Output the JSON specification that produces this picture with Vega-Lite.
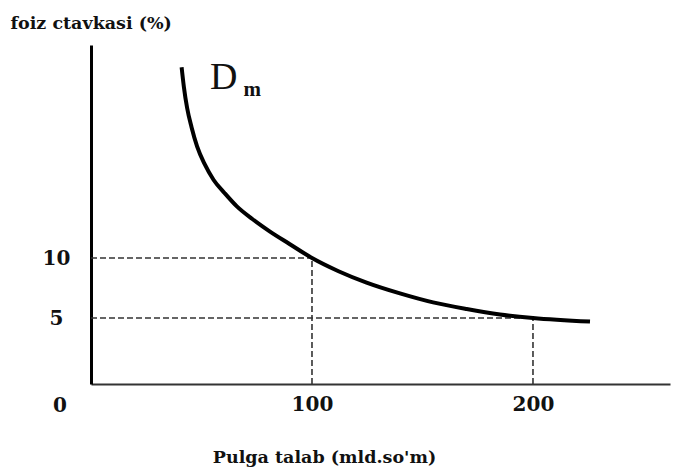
{
"$schema": "https://vega.github.io/schema/vega-lite/v6.json",
"width": 579,
"height": 339,
"autosize": "none",
"padding": {"left": 91, "top": 45, "right": 6, "bottom": 84},
"background": "white",
"config": {"view": {"stroke": null}, "font": "DejaVu Serif"},
"layer": [
{
"data": {"values": [
{"x": 0, "y": 10, "x2": 100, "y2": 10},
{"x": 100, "y": -0.5, "x2": 100, "y2": 10},
{"x": 0, "y": 5, "x2": 200, "y2": 5},
{"x": 200, "y": -0.5, "x2": 200, "y2": 5}
]},
"mark": {"type": "rule", "strokeDash": [6, 3], "color": "#333", "strokeWidth": 1.6},
"encoding": {
"x": {"field": "x", "type": "quantitative", "scale": {"domain": [0, 262], "nice": false, "zero": false},
"axis": {"values": [100, 200], "ticks": false, "tickSize": 0, "grid": false, "domainColor": "#333", "domainWidth": 2,
"labelFont": "DejaVu Serif", "labelFontWeight": "bold", "labelFontSize": 20, "labelColor": "#111", "labelPadding": 20, "labelBaseline": "middle",
"title": "Pulga talab (mld.so'm)", "titleFont": "DejaVu Serif", "titleFontWeight": "bold", "titleFontSize": 17.5, "titleColor": "#111",
"titleX": 233, "titleY": 73, "titleBaseline": "middle", "titleAlign": "center"}},
"x2": {"field": "x2"},
"y": {"field": "y", "type": "quantitative", "scale": {"domain": [-0.5, 27.75], "nice": false, "zero": false},
"axis": {"values": [5, 10], "ticks": false, "tickSize": 0, "grid": false, "domainColor": "#000", "domainWidth": 3,
"labelFont": "DejaVu Serif", "labelFontWeight": "bold", "labelFontSize": 20, "labelColor": "#111", "labelPadding": 35, "labelAlign": "center",
"title": "foiz ctavkasi (%)", "titleFont": "DejaVu Serif", "titleFontWeight": "bold", "titleFontSize": 17.5, "titleColor": "#111",
"titleAngle": 0, "titleAlign": "left", "titleBaseline": "middle", "titleX": -81, "titleY": -22}},
"y2": {"field": "y2"}
}
},
{
"data": {"values": [
{"x": 41.0, "y": 25.9},
{"x": 42.0, "y": 24.3},
{"x": 43.5, "y": 22.5},
{"x": 45.5, "y": 20.9},
{"x": 48.0, "y": 19.3},
{"x": 51.5, "y": 17.8},
{"x": 55.5, "y": 16.5},
{"x": 60.5, "y": 15.4},
{"x": 66.0, "y": 14.3},
{"x": 73.0, "y": 13.25},
{"x": 81.0, "y": 12.2},
{"x": 90.0, "y": 11.15},
{"x": 100.0, "y": 10.0},
{"x": 112.0, "y": 8.9},
{"x": 124.7, "y": 7.95},
{"x": 139.8, "y": 7.05},
{"x": 154.8, "y": 6.3},
{"x": 170.0, "y": 5.75},
{"x": 185.1, "y": 5.3},
{"x": 200.0, "y": 5.0},
{"x": 225.8, "y": 4.7}
]},
"mark": {"type": "line", "interpolate": "monotone", "color": "#000", "strokeWidth": 4, "strokeCap": "butt"},
"encoding": {
"x": {"field": "x", "type": "quantitative"},
"y": {"field": "y", "type": "quantitative"}
}
},
{
"data": {"values": [{"x": -14, "y": -2.3, "label": "0"}]},
"mark": {"type": "text", "font": "DejaVu Serif", "fontWeight": "bold", "fontSize": 20, "color": "#111", "baseline": "middle", "align": "center"},
"encoding": {
"x": {"field": "x", "type": "quantitative"},
"y": {"field": "y", "type": "quantitative"},
"text": {"field": "label"}
}
},
{
"data": {"values": [{"x": 60, "y": 25.0, "label": "D"}]},
"mark": {"type": "text", "font": "Liberation Serif", "fontSize": 38, "color": "#111", "baseline": "middle", "align": "center"},
"encoding": {
"x": {"field": "x", "type": "quantitative"},
"y": {"field": "y", "type": "quantitative"},
"text": {"field": "label"}
}
},
{
"data": {"values": [{"x": 73, "y": 24.0, "label": "m"}]},
"mark": {"type": "text", "font": "Liberation Serif", "fontWeight": "bold", "fontSize": 21, "color": "#111", "baseline": "middle", "align": "center"},
"encoding": {
"x": {"field": "x", "type": "quantitative"},
"y": {"field": "y", "type": "quantitative"},
"text": {"field": "label"}
}
}
]
}
